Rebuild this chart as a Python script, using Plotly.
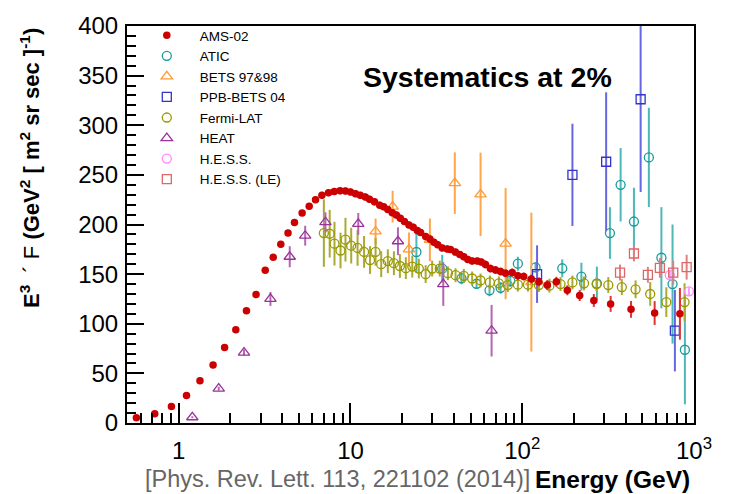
import plotly.graph_objects as go

# ---------------- data ----------------
ams_E = [0.567, 0.725, 0.907, 1.11, 1.33, 1.585, 1.85, 2.15, 2.48, 2.82, 3.19, 3.55, 3.93, 4.33,
         4.72, 5.23, 5.75, 6.26, 6.82, 7.45, 8.05, 8.7, 9.35, 10.0, 10.7, 11.4, 12.2, 12.9, 13.8,
         14.8, 15.6, 16.5, 17.5, 18.5, 19.5, 20.6, 21.9, 23.2, 24.5, 25.6, 27.4, 29.0, 30.6, 32.2,
         34.2, 36.6, 38.2, 40.8, 43.3, 45.7, 48.2, 51.1, 54.7, 57.7, 61.1, 65.3, 69.9, 74.8, 80.0,
         87.4, 94.3, 102, 113, 125, 140, 158, 183, 216, 261, 327, 430, 590, 828]
ams_F = [5.2, 9.4, 16.7, 27.6, 42.5, 58.4, 76, 94, 113, 129.4, 154, 167, 180, 191.5,
         202, 211.5, 218.3, 225, 229.4, 232, 233.3, 234, 233.8, 232.8, 231, 229.4, 227.8, 225.5, 222.8,
         219.5, 217.9, 215.2, 211.9, 209.5, 206.3, 203, 199.6, 197.3, 194, 192, 188, 185.4, 182.1, 179.7,
         176.4, 175.4, 174.8, 172.2, 169.8, 167.5, 164.8, 163.2, 163.2, 162.2, 159.8, 155.6, 154.2, 152.6, 150.9,
         151.6, 148.3, 147.6, 145, 142.3, 139, 142.3, 133.7, 128.4, 123.5, 120, 114.5, 110.8, 110]
ams_err = [1.5, 1.5, 1.5, 1.5, 1.5, 1.5, 1.5, 1.5, 2, 2, 2.5, 2.5, 3, 3,
           3, 3, 3, 3, 3.5, 3.5, 3.5, 3.5, 3.5, 3.5, 3.5, 3.5, 3.5, 3.5, 3.5,
           3.5, 3.5, 3.5, 3.5, 3.5, 3.5, 3.5, 3.5, 3.5, 3.5, 3.5, 3.5, 3.5, 3.5, 3.5,
           3.5, 3.5, 3.5, 3.5, 3.5, 3.5, 3.5, 3.5, 3.5, 3.5, 4, 4, 4, 4, 4,
           4, 4, 4, 4.5, 4.5, 5, 5, 5, 5.5, 6.5, 8, 8.5, 12, 26]

atic_E = [24.2, 34.2, 44.3, 54.2, 64.5, 74.8, 85.2, 94.3, 119.5, 171, 221, 272, 324, 374, 447, 546, 646, 750, 885]
atic_F = [172.3, 155.5, 145.8, 140.3, 133.7, 136.2, 143.1, 160.5, 156.8, 155.9, 147.5, 140.6, 191.4, 240, 203, 267.6, 166.5, 140, 73.8]
atic_err = [21, 14, 6, 5, 6, 6, 6, 7, 5, 9, 14, 17, 26, 37, 34, 50, 51, 60, 55]

bets_E = [14.0, 17.6, 21.9, 29.0, 40.5, 57.2, 80.0, 113]
bets_F = [193, 218, 175, 184.5, 241.7, 230.4, 180.7, 142]
bets_err = [13, 16, 17, 21.5, 31, 42, 56, 70]

ppb_E = [122, 196, 308, 489, 774]
ppb_F = [150, 250, 263.2, 326.2, 93]
ppb_err = [29, 51.5, 70, 93.4, 41]

fermi_E = [7.0, 7.57, 8.07, 8.75, 9.35, 10.1, 11.0, 12.0, 13.0, 14.0, 15.1, 16.5, 17.9, 19.4, 21.0,
           22.9, 25.0, 27.4, 29.9, 33.1, 36.9, 40.9, 45.7, 51.1, 57.2, 64.8, 73.1, 82.4, 94.3, 108,
           125, 144, 167, 196, 229, 271, 317, 380, 457, 556, 690, 881]
fermi_F = [191.4, 190.7, 180.7, 173.8, 184.7, 178.7, 176.4, 172.4, 164.2, 172.5, 160, 163, 161, 158.2, 156,
           157.6, 155.6, 150, 155.6, 155.6, 150.9, 148.9, 148.3, 145.6, 143.6, 141.6, 140.7, 139, 139.4, 139.4,
           139, 138.4, 140, 141.6, 140.7, 140, 139, 137, 134.7, 130, 121.8, 121.8]
fermi_err = [34, 24, 22, 18, 22, 18, 18, 16, 14, 14, 13, 12, 12, 12, 11,
             11, 10, 9, 8, 8, 7, 7, 7, 7, 7, 7, 7, 7, 7, 7,
             7, 7, 7, 7, 7, 7, 8, 8, 9, 12, 15, 19]

heat_E = [1.20, 1.71, 2.40, 3.42, 4.43, 5.45, 7.15, 11.1, 18.9, 34.7, 66.3]
heat_F = [5.8, 34.6, 71, 125, 167.5, 188.7, 202.3, 200.6, 183.1, 140, 93]
heat_err = [1, 2, 3, 7, 10.6, 10, 10, 11, 14, 22, 26]

hess_E = [723, 934]
hess_F = [149, 132.7]
hess_err = [5, 4]

hessle_E = [371, 447, 539, 633, 757, 906]
hessle_F = [151.6, 170.8, 149.3, 156.3, 151.6, 157]
hessle_err = [8, 8, 8, 10, 12, 12.5]

x_tickvals = [1, 10, 100, 1000]
x_ticktext = ["1", "10", "10<sup>2</sup>", "10<sup>3</sup>"]
x_minor = [0.6, 0.7, 0.8, 0.9, 2, 3, 4, 5, 6, 7, 8, 9, 20, 30, 40, 50, 60, 70, 80, 90,
           200, 300, 400, 500, 600, 700, 800, 900]

FONT = "Arial, Liberation Sans, sans-serif"

fig = go.Figure()


def add(name, E, F, err, symbol, color, ecolor, size, rank, lw=1.3):
    fig.add_trace(go.Scatter(
        x=E, y=F, mode="markers", name=name, legendrank=rank,
        error_y=dict(type="data", array=err, visible=True, color=ecolor, thickness=2, width=0),
        marker=dict(symbol=symbol, size=size, color=color,
                    line=dict(color=color, width=lw)),
    ))


add("ATIC", atic_E, atic_F, atic_err, "circle-open", "#1a9a9a", "#4db8b8", 9, 2)
add("BETS 97&98", bets_E, bets_F, bets_err, "triangle-up-open", "#ff9933", "#ffa64d", 10, 3)
add("PPB-BETS 04", ppb_E, ppb_F, ppb_err, "square-open", "#3333cc", "#6666dd", 9, 4)
add("Fermi-LAT", fermi_E, fermi_F, fermi_err, "circle-open", "#999900", "#aaaa33", 9, 5)
add("HEAT", heat_E, heat_F, heat_err, "triangle-up-open", "#993399", "#b366b3", 10, 6)
add("H.E.S.S.", hess_E, hess_F, hess_err, "circle-open", "#ff88ff", "#ff99ff", 9, 7)
add("H.E.S.S. (LE)", hessle_E, hessle_F, hessle_err, "square-open", "#dd6666", "#e08080", 9, 8)
add("AMS-02", ams_E, ams_F, ams_err, "circle", "#cc0000", "#dd3333", 7.5, 1, lw=0)

fig.update_layout(
    width=734, height=494,
    margin=dict(l=127, r=40, t=20, b=71),
    paper_bgcolor="white", plot_bgcolor="white",
    font=dict(family=FONT, color="black"),
    showlegend=True,
    legend=dict(x=0.012, y=1.015, xanchor="left", yanchor="top",
                font=dict(size=13.5, family=FONT), itemwidth=56,
                bgcolor="rgba(0,0,0,0)", borderwidth=0),
    xaxis=dict(type="log", range=[-0.30103, 3.0],
               tickmode="array", tickvals=x_tickvals, ticktext=x_ticktext,
               ticks="inside", ticklen=20, tickwidth=2, tickcolor="black",
               tickfont=dict(size=24, family=FONT), ticklabelstandoff=5,
               minor=dict(tickmode="array", tickvals=x_minor, ticks="inside",
                          ticklen=10, tickwidth=2, tickcolor="black"),
               showline=True, linewidth=2, linecolor="black", mirror=True,
               showgrid=False, zeroline=False),
    yaxis=dict(range=[0, 400], tickmode="linear", tick0=0, dtick=50,
               ticks="inside", ticklen=17, tickwidth=2, tickcolor="black",
               tickfont=dict(size=24, family=FONT), ticklabelstandoff=2,
               minor=dict(dtick=10, ticks="inside", ticklen=9, tickwidth=2, tickcolor="black"),
               showline=True, linewidth=2, linecolor="black", mirror=True,
               showgrid=False, zeroline=False),
)

fig.add_annotation(
    text="<b>E<sup>3</sup></b>  ´ F <b>(GeV<sup>2</sup> [ m<sup>2</sup> sr sec ]<sup>-1</sup>)</b>",
    xref="paper", yref="paper", x=-0.171, y=1.0, xanchor="center", yanchor="top",
    textangle=-90, showarrow=False, font=dict(size=22, family=FONT, color="black"))

fig.add_annotation(
    text="<b>Energy (GeV)</b>", xref="paper", yref="paper", x=0.996, y=-0.142,
    xanchor="right", yanchor="middle", showarrow=False,
    font=dict(size=24.5, family=FONT, color="black"))

fig.add_annotation(
    text="[Phys. Rev. Lett. 113, 221102 (2014)]", xref="paper", yref="paper",
    x=0.715, y=-0.142, xanchor="right", yanchor="middle", showarrow=False,
    font=dict(size=23.5, family=FONT, color="#666666"))

fig.add_annotation(
    text="<b>Systematics at 2%</b>", xref="paper", yref="paper", x=0.635, y=0.871,
    xanchor="center", yanchor="middle", showarrow=False,
    font=dict(size=28.5, family=FONT, color="black"))

fig.write_html("out.html")
